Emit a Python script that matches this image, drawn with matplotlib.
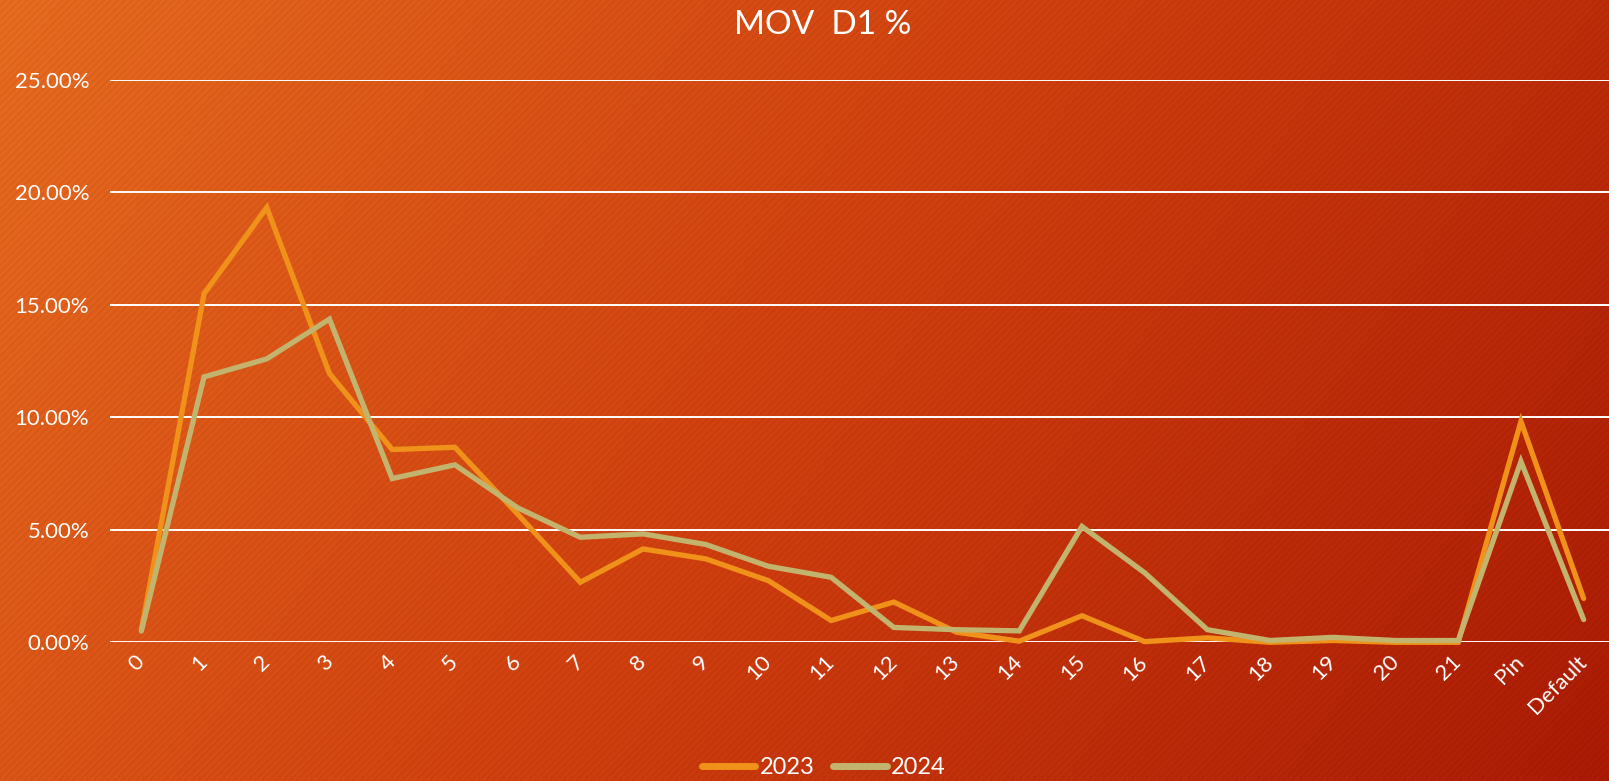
import numpy as np
import matplotlib
matplotlib.use('Agg')
import matplotlib.pyplot as plt
from matplotlib.lines import Line2D
from matplotlib.ticker import FuncFormatter

plt.rcParams['font.family'] = ['Lato', 'DejaVu Sans']

categories = [str(i) for i in range(22)] + ['Pin', 'Default']

# values in %
y2023 = [0.55, 15.5, 19.33, 11.95, 8.57, 8.67, 5.7, 2.67, 4.15, 3.71, 2.74, 0.97,
         1.79, 0.45, 0.05, 1.18, 0.03, 0.2, 0.0, 0.08, 0.0, 0.0, 9.82, 1.95]
y2024 = [0.5, 11.8, 12.6, 14.37, 7.28, 7.89, 5.98, 4.67, 4.82, 4.35, 3.38, 2.89,
         0.66, 0.56, 0.51, 5.15, 3.09, 0.56, 0.08, 0.22, 0.08, 0.08, 8.04, 1.01]
yticks = [0, 5, 10, 15, 20, 25]

W, H = 1609, 781
fig = plt.figure(figsize=(W / 100, H / 100), dpi=100)

# background: diagonal gradient with faint stripes
yy, xx = np.mgrid[0:H, 0:W]
t = (xx / W * 0.75 + yy / H * 0.25)
c0 = np.array([228, 106, 31]) / 255
c1 = np.array([205, 62, 14]) / 255
c2 = np.array([168, 26, 4]) / 255
t3 = t[..., None]
rgb = np.where(t3 < 0.5, c0 + (c1 - c0) * (t3 / 0.5), c1 + (c2 - c1) * ((t3 - 0.5) / 0.5))
stripes = 1 + 0.03 * np.sin(2 * np.pi * (xx + yy) / 7.0)
rgb = np.clip(rgb * stripes[..., None], 0, 1)
bg = fig.add_axes([0, 0, 1, 1], zorder=0)
bg.imshow(rgb, aspect='auto', interpolation='nearest')
bg.axis('off')

ax = fig.add_axes([110 / W, (H - 642.3) / H, 1505 / W, 562.3 / H], zorder=1)
ax.patch.set_alpha(0)
x = np.arange(len(categories))
ax.plot(x, y2023, color='#F0921A', lw=3.8, solid_capstyle='round',
        solid_joinstyle='miter', zorder=3, clip_on=False)
ax.plot(x, y2024, color='#C2B46E', lw=3.8, solid_capstyle='round',
        solid_joinstyle='miter', zorder=4, clip_on=False)

ax.set_xlim(-0.5, 23.5)
ax.set_ylim(0, 25)
ax.set_yticks(yticks)
ax.yaxis.set_major_formatter(FuncFormatter(lambda v, p: f'{v:.2f}%'))
ax.grid(axis='y', color='white', lw=1.4)
ax.set_axisbelow(True)
for s in ax.spines.values():
    s.set_visible(False)
ax.tick_params(length=0, colors='white', labelsize=16)
ax.tick_params(axis='y', pad=15)
ax.set_xticks(x)
ax.set_xticklabels(categories, rotation=45, ha='right', va='center',
                   rotation_mode='anchor')
ax.tick_params(axis='x', pad=12)

fig.text(0.511, 1 - 25 / H, 'MOV  D1 %', color='white', fontsize=24,
         ha='center', va='center')

handles = [Line2D([0], [0], color='#F0921A', lw=5, solid_capstyle='round'),
           Line2D([0], [0], color='#C2B46E', lw=5, solid_capstyle='round')]
fig.legend(handles, ['2023', '2024'], loc='center', bbox_to_anchor=(0.512, 0.017),
           ncol=2, frameon=False, fontsize=17, labelcolor='white',
           handlelength=2.25, handletextpad=0.2, columnspacing=0.8)

fig.savefig('out.png', dpi=100)
